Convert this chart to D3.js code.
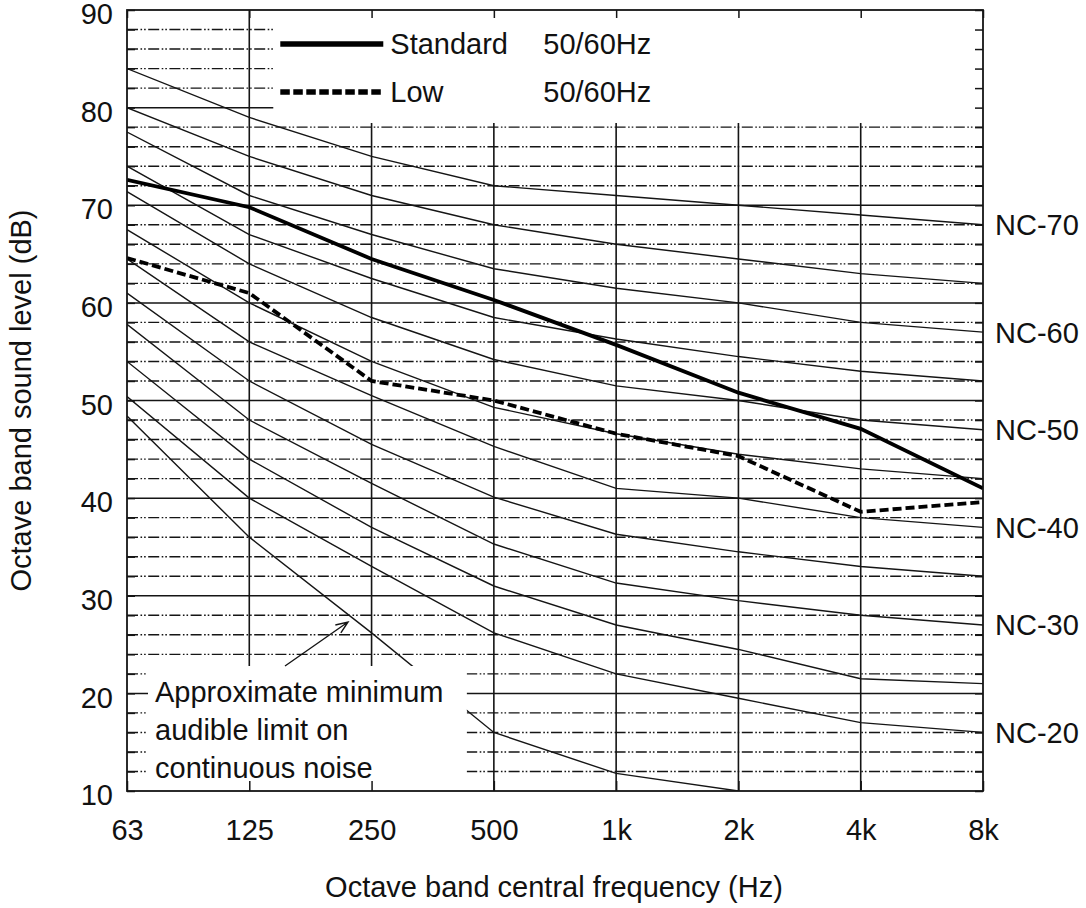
<!DOCTYPE html>
<html>
<head>
<meta charset="utf-8">
<script src="https://cdn.jsdelivr.net/npm/d3@7"></script>
<style>
  body { margin: 0; background: #fff; }
  text { font-family: "Liberation Sans", Arial, sans-serif; fill: #111; }
</style>
</head>
<body>
<div id="chart"></div>
<script>

// octave bands on the x axis
var freqs = ["63", "125", "250", "500", "1k", "2k", "4k", "8k"];
var yLabels = [10, 20, 30, 40, 50, 60, 70, 80, 90];

// NC curves (dB at each octave band)
var nc70 = [84, 79, 75, 72, 71, 70, 69, 68];
var nc65 = [80, 75, 71, 68, 66, 64.5, 63, 62];
var nc60 = [77.5, 71, 67, 63.5, 61.5, 60, 58, 57];
var nc55 = [74, 67, 62.5, 58.5, 56.3, 54.5, 53, 52];
var nc50 = [71.4, 64, 58.5, 54.2, 51.5, 50, 48, 47];
var nc45 = [67.5, 60, 54, 49.3, 46.6, 44.5, 43, 42];
var nc40 = [64.5, 56, 50.5, 45.3, 41, 40, 38, 37];
var nc35 = [61, 52, 45.5, 40.1, 36.3, 34.5, 33, 32];
var nc30 = [57.8, 48, 41.5, 35.3, 31.3, 29.5, 28, 27];
var nc25 = [54, 44, 37, 31, 27, 24.5, 21.5, 21];
var nc20 = [50.4, 40, 33, 26.2, 22, 19.5, 17, 16];
var ncCurves = [nc70, nc65, nc60, nc55, nc50, nc45, nc40, nc35, nc30, nc25, nc20];

// labels on the right, with the value at 8k they sit next to
var ncNames = ["NC-70", "NC-60", "NC-50", "NC-40", "NC-30", "NC-20"];
var ncNameLevels = [68, 57, 47, 37, 27, 16];

// minimum audible limit (63 .. 2k)
var minAudible = [48.4, 36, 26.2, 16, 11.8, 10];

// measured spectra
var standard = [72.6, 69.8, 64.5, 60.3, 55.7, 50.8, 47.1, 41.0];
var low = [64.6, 61.0, 52.0, 50.0, 46.6, 44.3, 38.6, 39.6];

var legendNames = ["Standard", "Low"];
var legendHz = ["50/60Hz", "50/60Hz"];
var noteLines = ["Approximate minimum", "audible limit on", "continuous noise"];

// set the dimensions and margins of the graph
var margin = {top: 10, right: 103, bottom: 117, left: 127},
  width = 1086 - margin.left - margin.right,
  height = 908 - margin.top - margin.bottom;

var svg = d3.select("#chart")
.append("svg")
  .attr("width", width + margin.left + margin.right)
  .attr("height", height + margin.top + margin.bottom)
.append("g")
  .attr("transform", "translate(" + margin.left + "," + margin.top + ")");

var x = d3.scalePoint().domain(freqs).range([0, width]);
var y = d3.scaleLinear().domain([10, 90]).range([height, 0]);

var ink = "#151515";
var fontSize = 29;

svg.append("clipPath").attr("id", "plot")
  .append("rect").attr("width", width).attr("height", height);

// horizontal grid: dash-dot every 2 dB, solid every 10 dB
var minor = d3.range(12, 90, 2).filter(function(v) { return v % 10 != 0; });
var major = d3.range(20, 90, 10);

svg.selectAll("line.minor")
  .data(minor)
  .enter()
  .append("line")
    .attr("class", "minor")
    .attr("x1", 0).attr("x2", width)
    .attr("y1", function(d) { return y(d); })
    .attr("y2", function(d) { return y(d); })
    .style("stroke", ink)
    .style("stroke-width", 1.4)
    .style("stroke-dasharray", "11,2.5,1.6,2,1.6,2.5");

svg.selectAll("line.major")
  .data(major)
  .enter()
  .append("line")
    .attr("class", "major")
    .attr("x1", 0).attr("x2", width)
    .attr("y1", function(d) { return y(d); })
    .attr("y2", function(d) { return y(d); })
    .style("stroke", ink)
    .style("stroke-width", 1.5);

svg.selectAll("line.vgrid")
  .data(freqs.slice(1, -1))
  .enter()
  .append("line")
    .attr("class", "vgrid")
    .attr("x1", function(d) { return x(d); })
    .attr("x2", function(d) { return x(d); })
    .attr("y1", 0).attr("y2", height)
    .style("stroke", ink)
    .style("stroke-width", 1.6);

var line = d3.line()
  .x(function(d, i) { return x(freqs[i]); })
  .y(function(d) { return y(d); });

var curves = svg.append("g").attr("clip-path", "url(#plot)");

curves.selectAll("path.nc")
  .data(ncCurves.concat([minAudible]))
  .enter()
  .append("path")
    .attr("class", "nc")
    .attr("d", line)
    .style("fill", "none")
    .style("stroke", ink)
    .style("stroke-width", 1.4);

curves.append("path")
  .datum(standard)
  .attr("d", line)
  .style("fill", "none")
  .style("stroke", "#000")
  .style("stroke-width", 3.8);

curves.append("path")
  .datum(low)
  .attr("d", line)
  .style("fill", "none")
  .style("stroke", "#000")
  .style("stroke-width", 3.8)
  .style("stroke-dasharray", "9,4");

// white boxes for legend and note, they hide the grid below
var legendLeft = x("125") + 24, legendBottom = 113;
var noteLeft = 21, noteRight = x("500") - 27, noteTop = 656;

svg.append("rect")
  .attr("x", legendLeft).attr("y", 0)
  .attr("width", width - legendLeft).attr("height", legendBottom)
  .style("fill", "#fff");

svg.append("rect")
  .attr("x", noteLeft).attr("y", noteTop)
  .attr("width", noteRight - noteLeft).attr("height", height - noteTop)
  .style("fill", "#fff");

// axes, ticks pointing inward
var yTickValues = d3.range(10, 91, 2);

svg.append("g")
  .attr("class", "yaxis")
  .call(d3.axisLeft(y).tickValues(yTickValues).tickSize(-8).tickPadding(14)
    .tickFormat(function(d) { return yLabels.indexOf(d) >= 0 ? d : ""; }))
  .call(function(g) { g.select(".domain").remove(); });

svg.append("g")
  .attr("transform", "translate(" + width + ",0)")
  .call(d3.axisRight(y).tickValues(yTickValues).tickSize(-8).tickFormat(""))
  .call(function(g) { g.select(".domain").remove(); });

svg.append("g")
  .attr("transform", "translate(0," + height + ")")
  .call(d3.axisBottom(x).tickSize(-10).tickPadding(28))
  .call(function(g) { g.select(".domain").remove(); });

svg.append("g")
  .call(d3.axisTop(x).tickSize(-8).tickFormat(""))
  .call(function(g) { g.select(".domain").remove(); });

svg.selectAll(".tick line").style("stroke", ink).style("stroke-width", 1.5);
svg.selectAll(".tick text")
  .attr("font-size", fontSize)
  .attr("font-family", "Liberation Sans, Arial, sans-serif")
  .style("fill", "#111");
svg.selectAll(".yaxis .tick text").attr("dy", "0.47em");

svg.append("rect")
  .attr("width", width).attr("height", height)
  .style("fill", "none")
  .style("stroke", ink)
  .style("stroke-width", 1.8);

// curve names on the right
svg.selectAll("text.ncname")
  .data(ncNames)
  .enter()
  .append("text")
    .attr("class", "ncname")
    .attr("x", width + 12)
    .attr("y", function(d, i) { return y(ncNameLevels[i]); })
    .attr("dy", "0.36em")
    .attr("font-size", fontSize)
    .text(function(d) { return d; });

// axis titles
svg.append("text")
  .attr("x", width / 2 - 1)
  .attr("y", height + 106)
  .attr("text-anchor", "middle")
  .attr("font-size", fontSize)
  .text("Octave band central frequency (Hz)");

svg.append("text")
  .attr("transform", "translate(-96," + (height / 2) + ") rotate(-90)")
  .attr("text-anchor", "middle")
  .attr("font-size", fontSize)
  .text("Octave band sound level (dB)");

// legend
var legend = svg.selectAll("g.legend")
  .data(legendNames)
  .enter()
  .append("g")
    .attr("class", "legend")
    .attr("transform", function(d, i) { return "translate(" + (legendLeft + 7) + "," + (34 + i * 48) + ")"; });

legend.append("line")
  .attr("x1", 0).attr("x2", 103)
  .style("stroke", "#000")
  .style("stroke-width", 5.5)
  .style("stroke-dasharray", function(d, i) { return i == 1 ? "9.5,3.5" : null; });

legend.append("text")
  .attr("x", 110)
  .attr("dy", "0.36em")
  .attr("font-size", fontSize)
  .text(function(d) { return d; });

legend.append("text")
  .attr("x", 263)
  .attr("dy", "0.36em")
  .attr("font-size", fontSize)
  .text(function(d, i) { return legendHz[i]; });

// note with its arrow
svg.selectAll("text.note")
  .data(noteLines)
  .enter()
  .append("text")
    .attr("class", "note")
    .attr("x", noteLeft + 7)
    .attr("y", function(d, i) { return 692 + i * 38; })
    .attr("font-size", fontSize)
    .text(function(d) { return d; });

var tip = [221, 612], tail = [158, 656];
var ang = Math.atan2(tail[1] - tip[1], tail[0] - tip[0]);
var head = 13, spread = 0.38;

svg.append("path")
  .attr("d", "M" + tail + "L" + tip +
    "M" + [tip[0] + head * Math.cos(ang - spread), tip[1] + head * Math.sin(ang - spread)] +
    "L" + tip +
    "L" + [tip[0] + head * Math.cos(ang + spread), tip[1] + head * Math.sin(ang + spread)])
  .style("fill", "none")
  .style("stroke", ink)
  .style("stroke-width", 1.4);

</script>
</body>
</html>
